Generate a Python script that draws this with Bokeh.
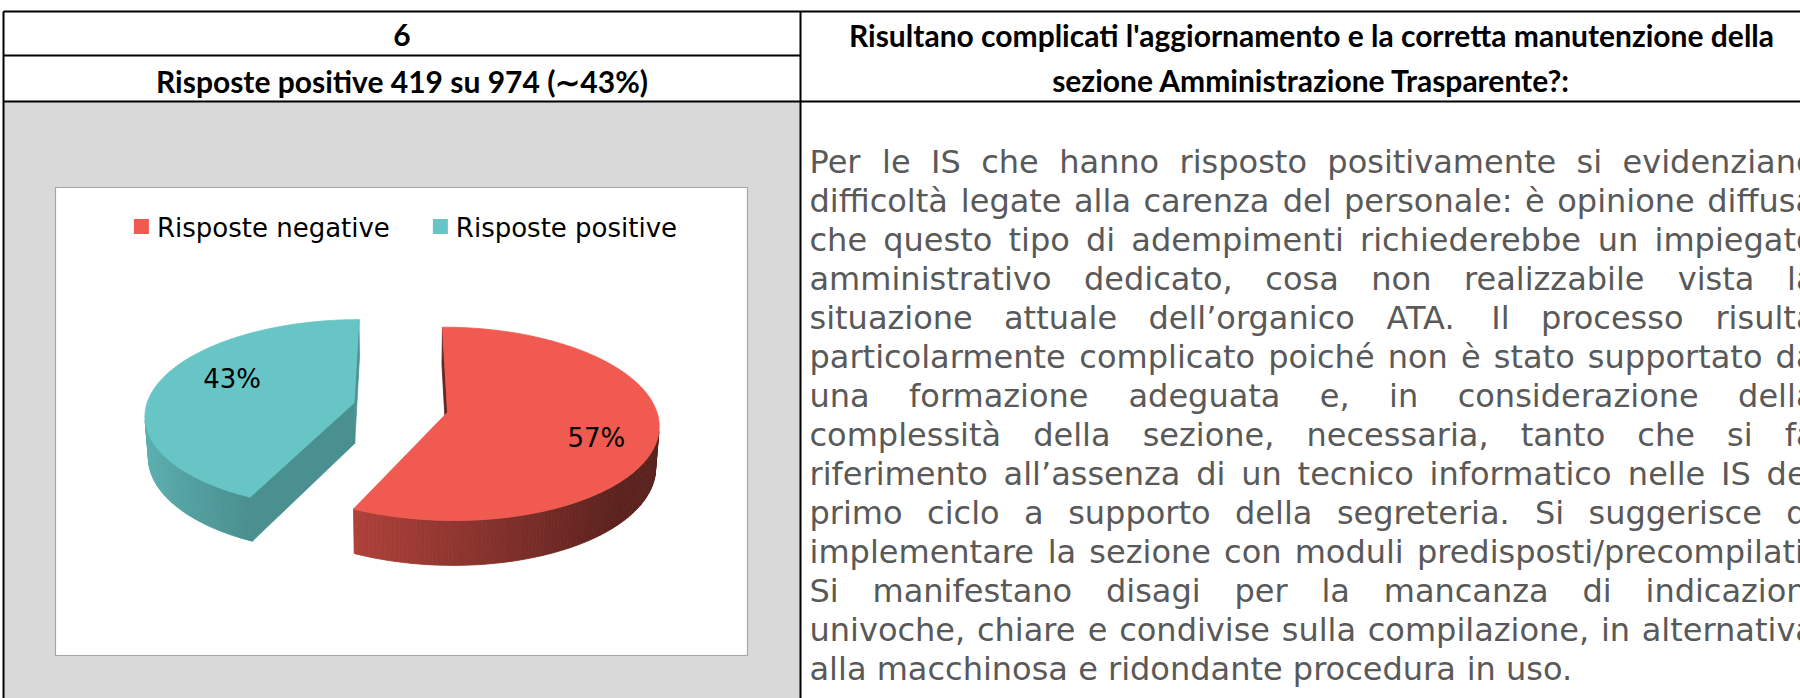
import numpy as np
from bokeh.plotting import figure
from bokeh.models import Range1d, ColumnDataSource
from bokeh.embed import file_html
from bokeh.resources import INLINE
from bokeh.core.properties import value

# ---------------- data ----------------
categories = ["Risposte negative", "Risposte positive"]
counts = [555, 419]
slice_colors = ["#F15A50", "#67C5C6"]
question_number = "6"
question_text = ["Risultano complicati l'aggiornamento e la corretta manutenzione della",
                 "sezione Amministrazione Trasparente?:"]
comment_lines = [
    "Per le IS che hanno risposto positivamente si evidenziano",
    "difficoltà legate alla carenza del personale: è opinione diffusa",
    "che questo tipo di adempimenti richiederebbe un impiegato",
    "amministrativo dedicato, cosa non realizzabile vista la",
    "situazione attuale dell’organico ATA. Il processo risulta",
    "particolarmente complicato poiché non è stato supportato da",
    "una formazione adeguata e, in considerazione della",
    "complessità della sezione, necessaria, tanto che si fa",
    "riferimento all’assenza di un tecnico informatico nelle IS del",
    "primo ciclo a supporto della segreteria. Si suggerisce di",
    "implementare la sezione con moduli predisposti/precompilati.",
    "Si manifestano disagi per la mancanza di indicazioni",
    "univoche, chiare e condivise sulla compilazione, in alternativa",
    "alla macchinosa e ridondante procedura in uso.",
]

total = sum(counts)
pct = [round(100 * c / total) for c in counts]
summary = f"Risposte positive {counts[1]} su {total} (\u223c{pct[1]}%)"

# ---------------- text metrics (DejaVu Sans advance widths / 2048) ----------------
ADV = {' ': 651, ',': 651, '.': 651, ':': 690, '/': 690, '\u2019': 651, "'": 563, '%': 1946,
       'A': 1401, 'I': 604, 'P': 1235, 'S': 1300, 'T': 1251, 'R': 1423,
       'a': 1255, 'à': 1255, 'b': 1300, 'c': 1126, 'd': 1300, 'e': 1260, 'è': 1260, 'é': 1260,
       'f': 721, 'g': 1300, 'h': 1298, 'i': 569, 'j': 569, 'k': 1186, 'l': 569, 'm': 1995,
       'n': 1298, 'o': 1253, 'p': 1300, 'q': 1300, 'r': 842, 's': 1067, 't': 803, 'u': 1298,
       'v': 1212, 'w': 1675, 'x': 1212, 'y': 1212, 'z': 1075}
for dch in "0123456789":
    ADV[dch] = 1303


def text_w(s, size):
    return sum(ADV.get(ch, 1200) for ch in s) / 2048.0 * size


# ---------------- figure ----------------
W, H = 1800, 698
p = figure(width=W, height=H, x_range=Range1d(0, W), y_range=Range1d(H, 0),
           x_axis_type=None, y_axis_type=None, output_backend="svg",
           toolbar_location=None, min_border=0, outline_line_color=None,
           background_fill_color="white", border_fill_color="white")

# table layout
TL, TT, COL, ROW1, HB, TR = 3, 11, 800, 55, 101, 1822
p.quad(left=[TL], right=[COL], top=[HB], bottom=[H + 5], fill_color="#D9D9D9", line_color=None)
p.segment(x0=[TL, TL, COL, TL, TL], y0=[TT, TT, TT, ROW1, HB],
          x1=[TR, TL, COL, COL, TR], y1=[TT, H + 5, H + 5, ROW1, HB],
          line_color="black", line_width=2)

# header texts
hdr_font = value("Lato")
HFS = value("30px")
p.text(x=[(TL + COL) / 2, (TL + COL) / 2], y=[(TT + ROW1) / 2 + 1, (ROW1 + HB) / 2 + 2],
       text=[question_number, summary], text_font=hdr_font, text_font_style="bold",
       text_font_size=HFS, text_align="center", text_baseline="middle",
       text_color="black")
p.text(x=[(COL + TR) / 2] * 2, y=[34, 79], text=question_text, text_font=hdr_font,
       text_font_style="bold", text_font_size=HFS, text_align="center",
       text_baseline="middle", text_color="black")

# justified comment paragraph
FS = 32
XL, XR = 809, 1815
BASE0, LS = 161, 39.0
wx, wy, wt = [], [], []
for i, line in enumerate(comment_lines):
    words = line.split()
    widths = [text_w(w, FS) for w in words]
    if i < len(comment_lines) - 1 and len(words) > 1:
        gap = (XR - XL - sum(widths)) / (len(words) - 1)
    else:
        gap = text_w(" ", FS)
    x = XL
    for w, ww in zip(words, widths):
        wx.append(x); wy.append(BASE0 + i * LS); wt.append(w)
        x += ww + gap
p.text(x="x", y="y", text="t", source=ColumnDataSource(dict(x=wx, y=wy, t=wt)),
       text_font=value("DejaVu Sans"), text_font_size=value(f"{FS}px"),
       text_align="left", text_baseline="alphabetic", text_color="#595959")

# chart box
BX0, BX1, BY0, BY1 = 55, 747, 187, 655
p.quad(left=[BX0], right=[BX1], top=[BY0], bottom=[BY1], fill_color="white",
       line_color="#A6A6A6", line_width=1.2)

# legend
LFS = 26
SQ, PAD, GAP = 15, 8, 43
lw = [text_w(c, LFS) for c in categories]
tot_w = sum(SQ + PAD + w for w in lw) + GAP * (len(categories) - 1)
lx = (BX0 + BX1) / 2 + 4 - tot_w / 2
LY = 226
sq_l, sq_r, tx = [], [], []
for c, w in zip(categories, lw):
    sq_l.append(lx); sq_r.append(lx + SQ); tx.append(lx + SQ + PAD)
    lx += SQ + PAD + w + GAP
p.quad(left=sq_l, right=sq_r, top=[LY - SQ / 2] * 2, bottom=[LY + SQ / 2] * 2,
       fill_color=slice_colors, line_color=None)
p.text(x=tx, y=[LY + 1] * 2, text=categories, text_font=value("DejaVu Sans"),
       text_font_size=value(f"{LFS}px"), text_baseline="middle", text_color="black")

# ---------------- 3D exploded pie ----------------
alpha = np.radians(26.9)
sa, ca = np.sin(alpha), np.cos(alpha)
DIST, FOC = 7.49, 1559.0
CX, CY = 400.0, 407.0
THK, EXP = 0.223, 0.23
cam = np.array([0.0, DIST * sa, DIST * ca])
down = np.array([0.0, -THK, 0.0])


def proj(P):
    P = np.atleast_2d(P)
    X, Y, Z = P[:, 0], P[:, 1], P[:, 2]
    d = DIST - (Y * sa + Z * ca)
    return CX + FOC * X / d, CY - FOC * (Y * ca - Z * sa) / d


def u(th):
    return np.array([np.sin(th), 0.0, -np.cos(th)])


def tng(th):
    return np.array([np.cos(th), 0.0, np.sin(th)])


def hex_rgb(h):
    return np.array([int(h[i:i + 2], 16) for i in (1, 3, 5)], dtype=float)


def shade(h, f):
    r, g, b = np.clip(hex_rgb(h) * f, 0, 255).astype(int)
    return f"#{r:02x}{g:02x}{b:02x}"


fr = np.array(counts, dtype=float) / total
ends = np.cumsum(fr) * 2 * np.pi
starts = np.concatenate([[0.0], ends[:-1]])

slices = []
for k in range(len(counts)):
    s, e = starts[k], ends[k]
    O = EXP * u((s + e) / 2)
    slices.append((np.linalg.norm(cam - O), k, s, e, O))
slices.sort(key=lambda t: -t[0])

xs, ys, fc = [], [], []
lab_x, lab_y, lab_t = [], [], []
for _, k, s, e, O in slices:
    col = slice_colors[k]
    parts = []
    # radial cut faces
    for th, n in ((s, -tng(s)), (e, tng(e))):
        mid = O + 0.5 * u(th) + 0.5 * down
        if np.dot(n, cam - mid) > 0:
            pts = np.array([O, O + u(th), O + u(th) + down, O + down])
            f = 0.585 + 0.165 * n[0]
            parts.append((np.linalg.norm(cam - mid), pts, shade(col, f)))
    # curved outer side, in thin strips
    ths = np.linspace(s, e, max(2, int(np.degrees(e - s)) + 1))
    for a, b in zip(ths[:-1], ths[1:]):
        m = (a + b) / 2
        mid = O + u(m) + 0.5 * down
        if np.dot(u(m), cam - mid) > 0:
            pts = np.array([O + u(a), O + u(b), O + u(b) + down, O + u(a) + down])
            f = np.clip(0.60 - 0.30 * np.sin(m), 0.38, 0.9)
            parts.append((np.linalg.norm(cam - mid), pts, shade(col, f)))
    parts.sort(key=lambda t: -t[0])
    for _, pts, c in parts:
        px, py = proj(pts)
        xs.append(list(px)); ys.append(list(py)); fc.append(c)
    # top face
    rim = np.array([O + u(th) for th in np.linspace(s, e, 240)])
    pts = np.vstack([O, rim])
    px, py = proj(pts)
    xs.append(list(px)); ys.append(list(py)); fc.append(col)
    # data label
    la = (s + e) / 2 + np.radians(9.4)
    lxp, lyp = proj(O + 0.70 * u(la))
    lab_x.append(lxp[0] + 7); lab_y.append(lyp[0]); lab_t.append(f"{pct[k]}%")

p.patches(xs=xs, ys=ys, fill_color=fc, line_color=fc, line_width=0.8)
p.text(x=lab_x, y=lab_y, text=lab_t, text_font=value("DejaVu Sans"),
       text_font_size=value("26px"), text_align="center", text_baseline="middle",
       text_color="black")

open("out.html", "w").write(file_html(p, INLINE))
